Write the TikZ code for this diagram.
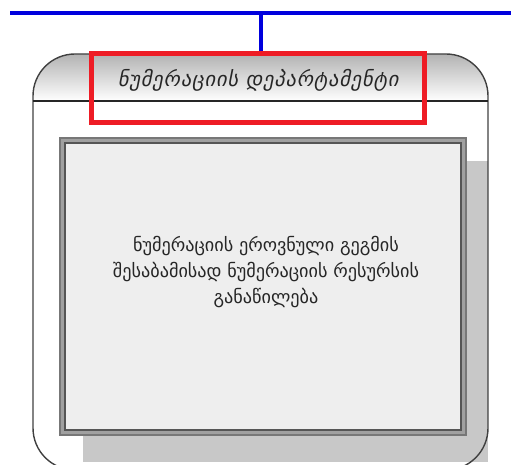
\documentclass[tikz,border=0pt]{standalone}
\usepackage{fontspec}
\setmainfont{DejaVu Sans}
\newfontfamily\geofont{DejaVu Sans}
\newfontfamily\geoslant{DejaVu Sans}[FakeSlant=0.2, LetterSpace=4]
\definecolor{busblue}{HTML}{0000DD}
\definecolor{redframe}{HTML}{EE1C25}
\definecolor{boxfill}{HTML}{EEEEEE}
\definecolor{shadowgray}{HTML}{C8C8C8}
\definecolor{framedark}{HTML}{555555}
\definecolor{framemid}{HTML}{A0A0A0}
\tikzset{
  bus/.style={draw=busblue, line width=3.5pt},
  outerbox/.style={draw=black!75, line width=1.4pt},
  redbox/.style={draw=redframe, line width=5pt, rectangle, inner sep=0pt},
  bodytext/.style={font=\geofont\fontsize{18.2}{26}\selectfont, align=center, text=black!85},
  headtext/.style={font=\geoslant\fontsize{20.5}{22}\selectfont, text=black!85}
}
\begin{document}
\begin{tikzpicture}[x=1pt,y=-1pt]
\useasboundingbox (0,0) rectangle (511,465);
% outer rounded container
\begin{scope}
  \clip[rounded corners=42pt] (33,54) rectangle (488,470);
  \shade[top color=black!30, bottom color=white] (33,54) rectangle (488,101);
\end{scope}
% shadow of inner box
\fill[shadowgray] (83,161) rectangle (488,462);
\draw[outerbox, rounded corners=42pt] (33,54) rectangle (488,470);
\draw[black!85, line width=1.2pt] (33,101) -- (488,101);
% inner box with double frame
\fill[framemid] (59,137) rectangle (467,436);
\draw[framedark!80, line width=1.6pt] (60,138) rectangle (466,435);
\fill[boxfill] (65,143) rectangle (461,430);
\draw[framedark, line width=1.6pt] (65,143) rectangle (461,430);
% texts
\node[headtext] (hdr) at (258,80) {ნუმერაციის დეპარტამენტი};
\node[bodytext] (body) at (266,272) {ნუმერაციის ეროვნული გეგმის\\შესაბამისად ნუმერაციის რესურსის\\განაწილება};
% red highlight
\node[redbox, minimum width=333pt, minimum height=69pt] (dept) at (257.5,88) {};
% bus
\coordinate (busL) at (10,13);
\coordinate (busR) at (511,13);
\coordinate (tap) at (261,13);
\draw[bus] (busL) -- (busR);
\draw[bus] (tap) -- (tap |- dept.north);
\end{tikzpicture}
\end{document}
